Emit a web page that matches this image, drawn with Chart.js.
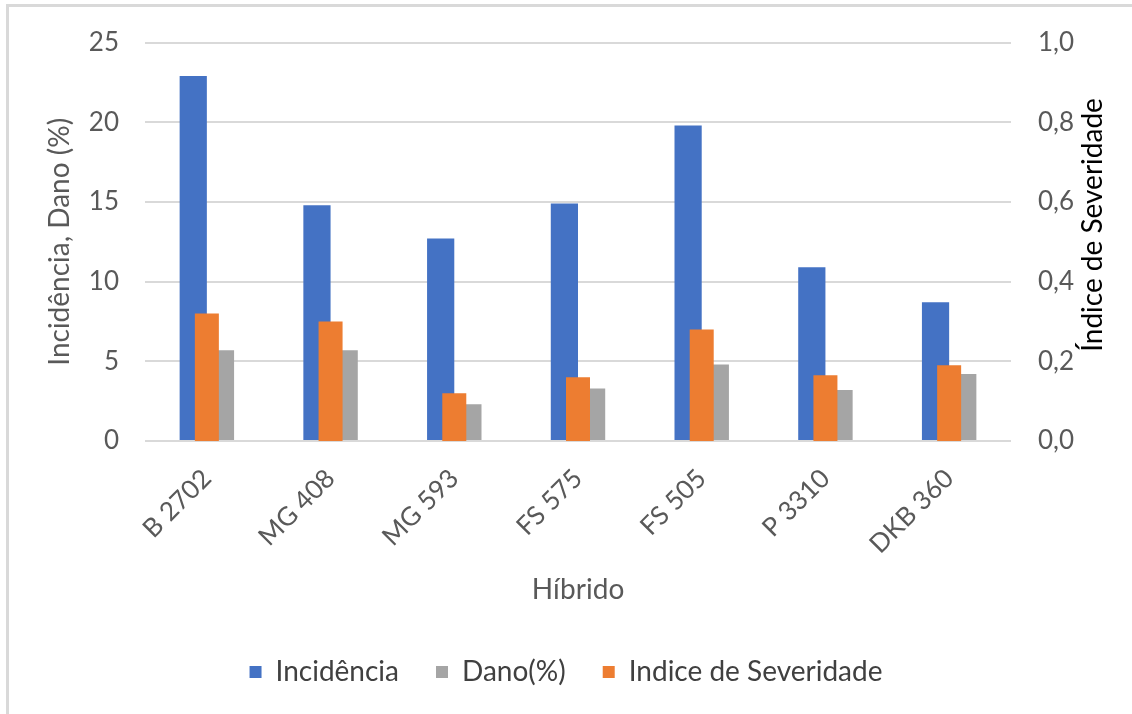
<!DOCTYPE html>
<html lang="pt-br">
<head>
    <meta charset="UTF-8">
    <title>Incidência, Dano e Índice de Severidade por Híbrido</title>
    <script src="https://cdn.jsdelivr.net/npm/chart.js"></script>
    <style>
        body { margin: 0; background: #fff; }
        #grafico { display: block; }
    </style>
</head>
<body>
    <canvas id="grafico" width="1132" height="714"></canvas>

    <script>
        // dados
        const hibridos = ['B 2702', 'MG 408', 'MG 593', 'FS 575', 'FS 505', 'P 3310', 'DKB 360'];
        const incidencia = [22.9, 14.8, 12.7, 14.9, 19.8, 10.9, 8.7];
        const dano = [5.7, 5.7, 2.3, 3.3, 4.8, 3.2, 4.2];
        const severidade = [0.32, 0.30, 0.12, 0.16, 0.28, 0.165, 0.19];

        const ticksEsquerda = ['0', '5', '10', '15', '20', '25'];
        const ticksDireita = ['0,0', '0,2', '0,4', '0,6', '0,8', '1,0'];

        const fonte = 'Lato';
        const cinzaTexto = '#595959';

        // moldura e titulo do eixo direito (lido de baixo para cima)
        const extras = {
            id: 'extras',
            beforeDraw(chart) {
                const ctx = chart.ctx;
                ctx.save();
                ctx.fillStyle = '#fff';
                ctx.fillRect(0, 0, chart.width, chart.height);
                ctx.fillStyle = '#d9d9d9';
                ctx.fillRect(6, 4, 3, chart.height - 4);
                ctx.fillRect(6, 4, chart.width - 6, 3);
                ctx.restore();
            },
            afterDraw(chart) {
                const ctx = chart.ctx;
                const area = chart.chartArea;
                ctx.save();
                ctx.translate(area.right + 82, 225);
                ctx.rotate(-Math.PI / 2);
                ctx.font = '28px ' + fonte;
                ctx.fillStyle = '#000';
                ctx.textAlign = 'center';
                ctx.textBaseline = 'middle';
                ctx.fillText('Índice de Severidade', 0, 0);
                ctx.restore();
            }
        };

        const ctx = document.getElementById('grafico').getContext('2d');

        new Chart(ctx, {
            type: 'bar',
            data: {
                labels: hibridos,
                datasets: [{
                    label: 'Incidência',
                    data: incidencia,
                    backgroundColor: '#4472C4',
                    yAxisID: 'y',
                    categoryPercentage: 0.44,
                    barPercentage: 1
                }, {
                    label: 'Dano(%)',
                    data: dano,
                    backgroundColor: '#A5A5A5',
                    yAxisID: 'y',
                    categoryPercentage: 0.44,
                    barPercentage: 1
                }, {
                    label: 'Indice de Severidade',
                    data: severidade,
                    backgroundColor: '#ED7D31',
                    yAxisID: 'y1',
                    grouped: false,
                    order: -1,
                    categoryPercentage: 0.2,
                    barPercentage: 0.97
                }]
            },
            options: {
                responsive: false,
                animation: false,
                layout: { padding: { left: 0, right: 0, top: 40, bottom: 18 } },
                plugins: {
                    tooltip: { enabled: false },
                    legend: {
                        position: 'bottom',
                        labels: {
                            boxWidth: 12,
                            boxHeight: 12,
                            padding: 37,
                            color: '#404040',
                            font: { family: fonte, size: 28 },
                            sort: (a, b) => a.datasetIndex - b.datasetIndex
                        }
                    }
                },
                scales: {
                    x: {
                        grid: { display: false },
                        border: { display: false },
                        ticks: {
                            autoSkip: false,
                            minRotation: 45,
                            maxRotation: 45,
                            padding: 14,
                            color: cinzaTexto,
                            font: { family: fonte, size: 26 }
                        },
                        title: {
                            display: true,
                            text: 'Híbrido',
                            color: cinzaTexto,
                            font: { family: fonte, size: 28 },
                            padding: { top: 0, bottom: 14 }
                        },
                        afterFit(scale) { scale.height = 180; }
                    },
                    y: {
                        position: 'left',
                        min: 0,
                        max: 25,
                        ticks: {
                            stepSize: 5,
                            padding: 26,
                            color: cinzaTexto,
                            font: { family: fonte, size: 26 },
                            callback: (v, i) => ticksEsquerda[i]
                        },
                        grid: { color: '#d9d9d9', lineWidth: 2, drawTicks: false },
                        border: { display: false },
                        title: {
                            display: true,
                            text: 'Incidência, Dano (%)',
                            color: cinzaTexto,
                            font: { family: fonte, size: 28 },
                            padding: { top: 43, bottom: 0 }
                        },
                        afterFit(scale) { scale.width = 145; }
                    },
                    y1: {
                        position: 'right',
                        min: 0,
                        max: 1,
                        ticks: {
                            stepSize: 0.2,
                            padding: 27,
                            color: cinzaTexto,
                            font: { family: fonte, size: 26 },
                            callback: (v, i) => ticksDireita[i]
                        },
                        grid: { display: false, drawTicks: false },
                        border: { display: false },
                        afterFit(scale) { scale.width = 121; }
                    }
                }
            },
            plugins: [extras]
        });
    </script>
</body>
</html>
